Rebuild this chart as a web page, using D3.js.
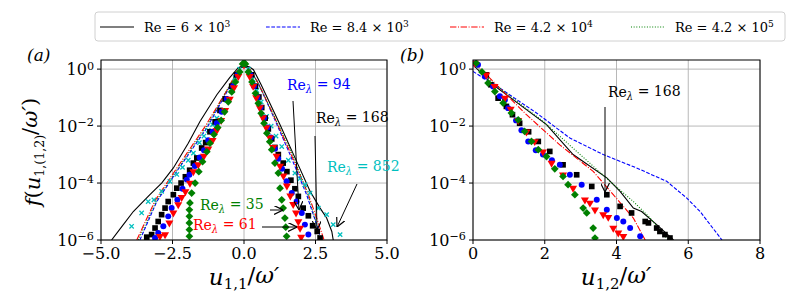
<!DOCTYPE html>
<html>
<head>
<meta charset="utf-8">
<script src="https://cdn.jsdelivr.net/npm/d3@7"></script>
<style>
body { margin: 0; background: #fff; }
</style>
</head>
<body>
<script>
// values are [u, log10 f]
// panel (a) curves
var aRe6e3   = [[-4.63,-6.0],[-4.22,-5.46],[-3.87,-5.0],[-3.29,-4.41],[-2.88,-4.0],[-2.47,-3.47],[-1.95,-2.6],[-1.54,-1.84],[-0.95,-0.9],[-0.5,-0.3],[-0.2,0.05],[0,0.13],[0.2,0.07],[0.33,-0.02],[0.6,-0.55],[1.26,-1.95],[1.84,-3.24],[2.31,-4.29],[2.66,-4.88],[2.89,-5.23],[3.07,-5.7],[3.12,-6.0]];
var aRe84e3  = [[-3.64,-6.0],[-3.05,-4.65],[-2.35,-3.59],[-1.3,-2.07],[-0.6,-0.8],[-0.2,-0.05],[0,0.12],[0.2,0.0],[0.5,-0.5],[1.0,-1.6],[1.61,-3.0],[2.19,-4.41],[2.54,-5.46],[2.7,-6.0]];
var aRe42e4  = [[-3.75,-6.0],[-3.1,-4.6],[-2.4,-3.55],[-1.35,-2.0],[-0.6,-0.75],[-0.2,0.0],[0,0.12],[0.2,0.0],[0.5,-0.5],[1.0,-1.55],[1.65,-3.0],[2.25,-4.4],[2.6,-5.4],[2.8,-6.0]];
var aRe42e5  = [[-3.7,-6.0],[-3.05,-4.6],[-2.35,-3.55],[-1.3,-2.0],[-0.6,-0.75],[-0.2,0.0],[0,0.12],[0.2,0.0],[0.5,-0.5],[1.0,-1.55],[1.7,-3.0],[2.2,-4.3],[2.5,-5.3],[2.62,-6.0]];
// panel (a) markers
var aLam35  = [[-1.91,-5.87],[-1.91,-5.64],[-1.91,-5.4],[-1.91,-5.17],[-1.91,-4.94],[-1.89,-4.7],[-1.83,-4.35],[-1.71,-4.0],[-1.58,-3.6],[-1.45,-3.25],[-1.3,-2.9],[-1.19,-2.6],[-1.05,-2.3],[-0.92,-2.05],[-0.8,-1.8],[-0.68,-1.5],[-0.55,-1.15],[-0.43,-0.8],[-0.3,-0.45],[-0.15,-0.1],[-0.05,0.18],[0,0.2],[0.05,0.18],[0.15,-0.1],[0.28,-0.45],[0.4,-0.85],[0.5,-1.2],[0.6,-1.55],[0.7,-1.9],[0.8,-2.25],[0.9,-2.55],[0.97,-2.83],[1.08,-3.3],[1.2,-3.65],[1.26,-4.18],[1.32,-4.59],[1.37,-4.88],[1.43,-5.23],[1.46,-5.55],[1.49,-5.87]];
var aLam61  = [[-2.94,-5.87],[-2.76,-5.81],[-2.61,-5.4],[-2.47,-5.05],[-2.3,-4.76],[-2.18,-4.5],[-2.05,-4.3],[-1.89,-4.0],[-1.77,-3.6],[-1.6,-3.35],[-1.4,-3.05],[-1.25,-2.8],[-1.1,-2.5],[-0.95,-2.15],[-0.8,-1.8],[-0.66,-1.45],[-0.5,-1.05],[-0.35,-0.65],[-0.2,-0.25],[0,0.15],[0.2,-0.25],[0.32,-0.6],[0.43,-1.0],[0.55,-1.35],[0.66,-1.7],[0.78,-2.05],[0.9,-2.4],[1.02,-2.75],[1.14,-3.05],[1.26,-3.4],[1.38,-3.75],[1.5,-4.1],[1.62,-4.45],[1.72,-4.75],[1.82,-5.05],[1.9,-5.35],[1.96,-5.58],[2.0,-5.9]];
var aLam94  = [[-3.11,-5.93],[-3.0,-5.75],[-2.82,-5.52],[-2.65,-5.17],[-2.53,-4.88],[-2.33,-4.59],[-2.15,-4.2],[-2.0,-3.88],[-1.91,-3.71],[-1.72,-3.4],[-1.55,-3.1],[-1.4,-2.85],[-1.25,-2.5],[-1.1,-2.2],[-0.95,-1.9],[-0.78,-1.5],[-0.6,-1.05],[-0.38,-0.6],[-0.22,-0.2],[0,0.15],[0.22,-0.2],[0.35,-0.6],[0.47,-1.0],[0.58,-1.35],[0.7,-1.72],[0.82,-2.05],[0.94,-2.4],[1.08,-2.8],[1.2,-3.15],[1.33,-3.5],[1.49,-3.94],[1.67,-4.35],[1.84,-4.65],[2.02,-5.05],[2.13,-5.46],[2.25,-5.81]];
var aLam168 = [[-3.4,-5.9],[-3.23,-5.81],[-3.11,-5.58],[-3.0,-5.35],[-2.88,-5.11],[-2.76,-4.88],[-2.65,-4.65],[-2.47,-4.41],[-2.35,-4.18],[-2.2,-4.0],[-2.05,-3.78],[-1.9,-3.55],[-1.77,-3.3],[-1.65,-3.12],[-1.48,-2.77],[-1.34,-2.58],[-1.19,-2.2],[-1.01,-1.85],[-0.84,-1.45],[-0.66,-1.05],[-0.43,-0.6],[-0.26,-0.2],[0,0.15],[0.27,-0.2],[0.4,-0.6],[0.52,-0.98],[0.62,-1.35],[0.74,-1.72],[0.85,-2.1],[0.97,-2.45],[1.08,-2.75],[1.2,-3.0],[1.37,-3.3],[1.5,-3.6],[1.64,-3.9],[1.78,-4.2],[1.9,-4.47],[2.07,-4.88],[2.25,-5.15],[2.4,-5.5],[2.56,-5.7],[2.66,-5.93]];
var aLam852 = [[-3.93,-5.52],[-3.58,-5.05],[-3.35,-4.65],[-3.15,-4.59],[-2.88,-4.29],[-2.59,-3.94],[-2.35,-3.7],[-2.15,-3.45],[-1.95,-3.2],[-1.77,-2.95],[-1.56,-2.58],[-1.4,-2.35],[-1.25,-2.15],[-1.1,-1.95],[-0.95,-1.72],[-0.78,-1.45],[-0.6,-1.1],[-0.45,-0.7],[-0.31,-0.3],[-0.15,0.0],[0,0.22],[0.15,0.0],[0.3,-0.35],[0.45,-0.75],[0.6,-1.15],[0.79,-1.66],[0.95,-2.0],[1.12,-2.35],[1.32,-2.72],[1.55,-3.2],[1.78,-3.65],[1.95,-3.85],[2.13,-4.06],[2.31,-4.35],[2.6,-4.88],[2.89,-5.11],[3.12,-5.46],[3.36,-5.81]];
// panel (b) curves
var bRe6e3  = [[0,0.15],[0.56,-0.55],[2.05,-1.95],[2.79,-3.0],[3.73,-3.82],[4.1,-4.29],[4.47,-4.88],[4.7,-5.0],[5.12,-5.46],[5.59,-6.0]];
var bRe84e3 = [[0,-0.08],[0.75,-0.67],[1.77,-1.54],[2.7,-2.42],[3.63,-3.0],[4.56,-3.47],[5.4,-3.94],[5.96,-4.53],[6.33,-5.0],[6.61,-5.46],[6.94,-6.0]];
var bRe42e4 = [[0,0.27],[0.56,-0.43],[1.49,-1.6],[2.42,-2.66],[3.35,-3.59],[3.91,-4.41],[4.47,-5.23],[4.8,-6.0]];
var bRe42e5 = [[0,0.21],[0.56,-0.49],[1.96,-1.84],[2.89,-2.89],[3.82,-3.94],[4.47,-4.65],[4.94,-5.23],[5.44,-6.0]];
// panel (b) markers
var bLam35  = [[0.09,0.21],[0.25,-0.1],[0.42,-0.49],[0.61,-0.79],[0.84,-1.19],[1.07,-1.54],[1.26,-1.78],[1.44,-2.19],[1.63,-2.54],[1.82,-2.83],[2.05,-3.07],[2.28,-3.5],[2.51,-3.77],[2.65,-4.06],[2.84,-4.41],[3.07,-4.88],[3.17,-5.05],[3.35,-5.58],[3.4,-5.93]];
var bLam61  = [[0.05,0.21],[0.37,-0.2],[0.6,-0.6],[0.89,-1.02],[1.05,-1.4],[1.26,-1.8],[1.49,-2.2],[1.72,-2.54],[1.95,-2.9],[2.19,-3.3],[2.51,-3.71],[2.79,-4.18],[3.12,-4.59],[3.26,-4.7],[3.4,-4.94],[3.63,-5.11],[3.77,-5.2],[3.91,-5.58],[4.05,-5.75],[4.19,-5.87]];
var bLam94  = [[0.05,0.2],[0.14,0.15],[0.33,-0.26],[0.56,-0.61],[0.75,-0.95],[0.89,-1.08],[0.98,-1.37],[1.2,-1.8],[1.35,-2.15],[1.54,-2.54],[1.75,-2.85],[1.95,-3.0],[2.2,-3.2],[2.42,-3.36],[2.7,-3.71],[3.03,-4.06],[3.45,-4.59],[3.73,-4.94],[4.01,-5.23],[4.19,-5.35],[4.38,-5.58],[4.66,-5.87]];
var bLam168 = [[0.37,-0.2],[0.5,-0.55],[0.7,-1.02],[0.93,-1.31],[1.1,-1.6],[1.3,-1.9],[1.55,-2.2],[1.82,-2.54],[2.14,-2.89],[2.51,-3.36],[2.89,-3.71],[3.31,-4.12],[3.73,-4.41],[4.1,-4.82],[4.42,-5.05],[4.8,-5.35],[4.89,-5.4],[5.12,-5.58],[5.21,-5.7],[5.35,-5.81],[5.49,-5.93]];

var xTicksA = [-5, -2.5, 0, 2.5, 5];
var xTicksB = [0, 2, 4, 6, 8];
var yTicks = [0, -2, -4, -6];
var legendLabels = [["6", "3"], ["8.4", "3"], ["4.2", "4"], ["4.2", "5"]];

var FONT = "DejaVu Serif";
var W = 800, H = 300;
var svg = d3.select("body").append("svg").attr("width", W).attr("height", H);

var top_ = 60, bottom = 240;
var y = d3.scaleLog().domain([1e-6, Math.pow(10, 0.32)]).range([bottom, top_]);

var colK = "#000000", colB = "#0000ff", colR = "#ff0000", colG = "#008000", colC = "#00bfbf";
var curveStyles = [
  {c: colK, dash: null},
  {c: colB, dash: "3.7,1.6"},
  {c: colR, dash: "6.4,1.6,1,1.6"},
  {c: colG, dash: "1,1.65"}
];

function sup(t, base, exp) {
  t.append("tspan").text(base);
  t.append("tspan").attr("dy", "-0.5em").attr("font-size", "0.7em").text(exp);
}

function panel(id, x0, x1, dom, ticks, fmt, curves, marks) {
  var x = d3.scaleLinear().domain(dom).range([x0, x1]);
  var g = svg.append("g");
  svg.append("clipPath").attr("id", "clip" + id)
    .append("rect").attr("x", x0).attr("y", top_).attr("width", x1 - x0).attr("height", bottom - top_);

  // grid
  g.selectAll(".gx").data(ticks).enter().append("line")
    .attr("x1", d => x(d)).attr("x2", d => x(d)).attr("y1", top_).attr("y2", bottom)
    .attr("stroke", "#b0b0b0").attr("stroke-width", 0.9);
  g.selectAll(".gy").data(yTicks).enter().append("line")
    .attr("x1", x0).attr("x2", x1).attr("y1", d => y(Math.pow(10, d))).attr("y2", d => y(Math.pow(10, d)))
    .attr("stroke", "#b0b0b0").attr("stroke-width", 0.9);

  var pg = g.append("g").attr("clip-path", "url(#clip" + id + ")");
  var line = d3.line().x(d => x(d[0])).y(d => y(Math.pow(10, d[1])));
  curves.forEach(function (c, i) {
    pg.append("path").datum(c).attr("d", line).attr("fill", "none")
      .attr("stroke", curveStyles[i].c).attr("stroke-width", 1.1)
      .attr("stroke-dasharray", curveStyles[i].dash);
  });

  marks.forEach(function (m) {
    var sym = d3.symbol().type(m.type).size(m.size);
    pg.selectAll(null).data(m.data).enter().append("path")
      .attr("transform", d => "translate(" + x(d[0]) + "," + y(Math.pow(10, d[1])) + ")" + (m.rot ? " rotate(" + m.rot + ")" : ""))
      .attr("d", sym)
      .attr("fill", m.c)
      .attr("stroke", m.type === d3.symbolTimes ? m.c : "none")
      .attr("stroke-width", 1.3);
  });

  // frame
  g.append("rect").attr("x", x0).attr("y", top_).attr("width", x1 - x0).attr("height", bottom - top_)
    .attr("fill", "none").attr("stroke", "#000").attr("stroke-width", 1);

  // x ticks
  var xt = g.selectAll(".xt").data(ticks).enter().append("g");
  xt.append("line").attr("x1", d => x(d)).attr("x2", d => x(d)).attr("y1", bottom).attr("y2", bottom + 4).attr("stroke", "#000");
  xt.append("text").attr("x", d => x(d)).attr("y", bottom + 19).attr("text-anchor", "middle")
    .attr("font-size", 16).text(fmt);

  // y ticks
  yTicks.forEach(function (e) {
    var yy = y(Math.pow(10, e));
    g.append("line").attr("x1", x0 - 4).attr("x2", x0).attr("y1", yy).attr("y2", yy).attr("stroke", "#000");
    var t = g.append("text").attr("x", x0 - 7).attr("y", yy + 6).attr("text-anchor", "end").attr("font-size", 16);
    sup(t, "10", e === 0 ? "0" : "\u2212" + (-e));
  });
  return x;
}

var minus = d => (d < 0 ? "\u2212" : "") + Math.abs(d).toFixed(1);

var marksA = [
  {data: aLam852, c: colC, type: d3.symbolTimes, size: 14},
  {data: aLam168, c: colK, type: d3.symbolSquare, size: 32},
  {data: aLam94, c: colB, type: d3.symbolCircle, size: 28},
  {data: aLam61, c: colR, type: d3.symbolTriangle, size: 28, rot: 180},
  {data: aLam35, c: colG, type: d3.symbolSquare, size: 30, rot: 45}
];
var marksB = [
  {data: bLam168, c: colK, type: d3.symbolSquare, size: 32},
  {data: bLam94, c: colB, type: d3.symbolCircle, size: 28},
  {data: bLam61, c: colR, type: d3.symbolTriangle, size: 28, rot: 180},
  {data: bLam35, c: colG, type: d3.symbolSquare, size: 30, rot: 45}
];

panel("a", 101, 387, [-5, 5], xTicksA, minus, [aRe6e3, aRe84e3, aRe42e4, aRe42e5], marksA);
panel("b", 473, 760, [0, 8], xTicksB, d => d, [bRe6e3, bRe84e3, bRe42e4, bRe42e5], marksB);

// arrows
var defs = svg.append("defs");
defs.append("marker").attr("id", "ah").attr("viewBox", "0 0 10 10").attr("refX", 10).attr("refY", 5)
  .attr("markerWidth", 9).attr("markerHeight", 9).attr("orient", "auto").attr("markerUnits", "userSpaceOnUse")
  .append("path").attr("d", "M0,0 L10,5 L0,10").attr("fill", "none").attr("stroke", "#000").attr("stroke-width", 1.3);

function relam(x, yy, val, col) {
  var t = svg.append("text").attr("x", x).attr("y", yy).attr("font-size", 14).attr("fill", col);
  t.append("tspan").text("Re");
  t.append("tspan").attr("dy", "0.3em").attr("font-size", "0.72em").attr("font-style", "italic").text("\u03bb");
  t.append("tspan").attr("dy", "-0.3em").text(" = " + val);
}
function arrow(x1, y1, x2, y2) {
  svg.append("line").attr("x1", x1).attr("y1", y1).attr("x2", x2).attr("y2", y2)
    .attr("stroke", "#000").attr("stroke-width", 1).attr("marker-end", "url(#ah)");
}
relam(287, 90, "94", colB);      arrow(293, 101, 299, 210);
relam(316, 123, "168", colK);    arrow(315, 136, 317, 230);
relam(327, 172, "852", colC);    arrow(357, 184, 337, 227);
relam(200, 210, "35", colG);     arrow(270, 210, 283, 210);
relam(193, 230, "61", colR);     arrow(262, 227, 297, 227);
relam(608, 97, "168", colK);     arrow(605, 107, 605, 192);

// panel labels
svg.append("text").attr("x", 27).attr("y", 61).attr("font-size", 17).attr("font-style", "italic").text("(a)");
svg.append("text").attr("x", 400).attr("y", 61).attr("font-size", 17).attr("font-style", "italic").text("(b)");

// axis labels
function xlab(cx, sub) {
  var t = svg.append("text").attr("x", cx).attr("y", 285).attr("text-anchor", "middle").attr("font-size", 23);
  t.append("tspan").attr("font-style", "italic").text("u");
  t.append("tspan").attr("dy", "0.3em").attr("font-size", "0.65em").text(sub);
  t.append("tspan").attr("dy", "-0.3em").text("/");
  t.append("tspan").attr("font-style", "italic").text("\u03c9\u2032");
}
xlab(244, "1,1");
xlab(616, "1,2");

var yl = svg.append("text").attr("transform", "translate(40,152) rotate(-90)").attr("text-anchor", "middle").attr("font-size", 21);
yl.append("tspan").attr("font-style", "italic").text("f");
yl.append("tspan").text("(");
yl.append("tspan").attr("font-style", "italic").text("u");
yl.append("tspan").attr("dy", "0.3em").attr("font-size", "0.6em").text("1,(1,2)");
yl.append("tspan").attr("dy", "-0.3em").text("/");
yl.append("tspan").attr("font-style", "italic").text("\u03c9\u2032");
yl.append("tspan").text(")");

// legend
svg.append("rect").attr("x", 95).attr("y", 12).attr("width", 690).attr("height", 29).attr("rx", 3)
  .attr("fill", "#fff").attr("stroke", "#d0d0d0");
var legX = [100, 266, 450, 631];
legendLabels.forEach(function (l, i) {
  svg.append("line").attr("x1", legX[i]).attr("x2", legX[i] + 34).attr("y1", 27).attr("y2", 27)
    .attr("stroke", curveStyles[i].c).attr("stroke-width", 1.1).attr("stroke-dasharray", curveStyles[i].dash);
  var t = svg.append("text").attr("x", legX[i] + 44).attr("y", 32).attr("font-size", 13);
  t.append("tspan").text("Re = " + l[0] + " \u00d7 10");
  t.append("tspan").attr("dy", "-0.5em").attr("font-size", "0.7em").text(l[1]);
});

svg.selectAll("text").attr("font-family", FONT);
</script>
</body>
</html>
